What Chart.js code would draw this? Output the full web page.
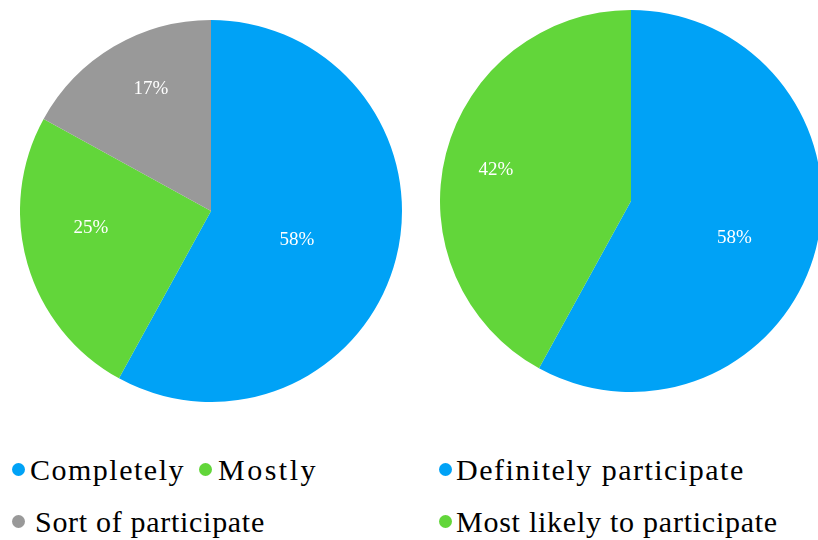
<!DOCTYPE html>
<html>
<head>
<meta charset="utf-8">
<script src="https://cdn.jsdelivr.net/npm/chart.js@4/dist/chart.umd.min.js"></script>
<style>
  html, body { margin: 0; padding: 0; background: #fff; }
  body { width: 818px; height: 540px; position: relative; overflow: hidden; }
  canvas { position: absolute; }
  #pieLeft { left: 20px; top: 20px; }
  #pieRight { left: 440px; top: 10px; }
  .legend { position: absolute; font-family: "Liberation Serif", "Times New Roman", serif;
            font-size: 30px; line-height: 30px; color: #000; white-space: nowrap; }
  .row { position: absolute; left: 0; height: 30px; display: flex; align-items: baseline; }
  .item { display: inline-flex; align-items: baseline; letter-spacing: 1.5px; }
  .dot { display: inline-block; width: 13px; height: 13px; border-radius: 50%; vertical-align: baseline;
         position: relative; top: -4px; }
</style>
</head>
<body>
<canvas id="pieLeft" width="382" height="382"></canvas>
<canvas id="pieRight" width="382" height="382"></canvas>
<div class="legend" id="legendLeft" style="left:12px; top:0;"></div>
<div class="legend" id="legendRight" style="left:439px; top:0;"></div>
<script>
// Left pie: how completely
const leftLabels = ['Completely', 'Mostly', 'Sort of participate'];
const leftValues = [58, 25, 17];
// Right pie: intention to participate
const rightLabels = ['Definitely participate', 'Most likely to participate'];
const rightValues = [58, 42];

const BLUE = '#00A2F6';
const GREEN = '#62D63A';
const GRAY = '#999999';
const leftColors = [BLUE, GREEN, GRAY];
const rightColors = [BLUE, GREEN];

// Where each percentage sits inside its slice: [fraction along the arc, fraction of radius]
const leftLabelPlace = [[0.52, 0.475], [0.59, 0.635], [0.57, 0.71]];
const rightLabelPlace = [[0.526, 0.575], [0.49, 0.725]];

const sliceLabels = {
  id: 'sliceLabels',
  afterDatasetsDraw(chart, args, opts) {
    const ctx = chart.ctx;
    const meta = chart.getDatasetMeta(0);
    const data = chart.data.datasets[0].data;
    ctx.save();
    ctx.fillStyle = '#fff';
    ctx.font = '19px "Liberation Serif", "Times New Roman", serif';
    ctx.textAlign = 'center';
    ctx.textBaseline = 'middle';
    meta.data.forEach((arc, i) => {
      const p = arc.getProps(['x', 'y', 'startAngle', 'endAngle', 'outerRadius'], true);
      const [fa, fr] = opts.place[i];
      const a = p.startAngle + fa * (p.endAngle - p.startAngle);
      const r = fr * p.outerRadius;
      ctx.fillText(data[i] + '%', p.x + Math.cos(a) * r, p.y + Math.sin(a) * r);
    });
    ctx.restore();
  }
};

function makePie(id, labels, values, colors, radius, place) {
  return new Chart(document.getElementById(id), {
    type: 'pie',
    data: {
      labels: labels,
      datasets: [{
        data: values,
        backgroundColor: colors,
        borderWidth: 0,
        hoverOffset: 0,
        offset: 0
      }]
    },
    options: {
      responsive: false,
      animation: false,
      events: [],
      radius: radius,
      layout: { padding: 0 },
      plugins: {
        legend: { display: false },
        tooltip: { enabled: false },
        sliceLabels: { place: place }
      }
    },
    plugins: [sliceLabels]
  });
}

makePie('pieLeft', leftLabels, leftValues, leftColors, 191, leftLabelPlace);
makePie('pieRight', rightLabels, rightValues, rightColors, 191, rightLabelPlace);

// Legend rows: each item gives the label index, its left offset, the dot-to-text gap and letter spacing
function buildLegend(id, labels, colors, rows) {
  const box = document.getElementById(id);
  rows.forEach(row => {
    const div = document.createElement('div');
    div.className = 'row';
    div.style.top = row.top + 'px';
    row.items.forEach(it => {
      const item = document.createElement('span');
      item.className = 'item';
      item.style.position = 'absolute';
      item.style.left = it.left + 'px';
      item.style.letterSpacing = it.spacing + 'px';
      const dot = document.createElement('span');
      dot.className = 'dot';
      dot.style.background = colors[it.index];
      dot.style.marginRight = it.gap + 'px';
      const txt = document.createElement('span');
      txt.textContent = labels[it.index];
      item.appendChild(dot);
      item.appendChild(txt);
      div.appendChild(item);
    });
    box.appendChild(div);
  });
}

buildLegend('legendLeft', leftLabels, leftColors, [
  { top: 455, items: [{ index: 0, left: 0, gap: 5, spacing: 1.5 }, { index: 1, left: 187, gap: 6, spacing: 2.5 }] },
  { top: 507, items: [{ index: 2, left: 0, gap: 10, spacing: 0.7 }] }
]);
buildLegend('legendRight', rightLabels, rightColors, [
  { top: 455, items: [{ index: 0, left: 0, gap: 4, spacing: 1.5 }] },
  { top: 507, items: [{ index: 1, left: 0, gap: 4, spacing: 0.75 }] }
]);
</script>
</body>
</html>
